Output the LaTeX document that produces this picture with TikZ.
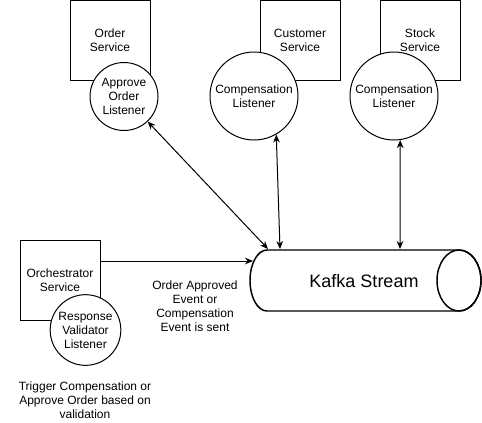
\documentclass[tikz,border=0pt]{standalone}
\usepackage{fontspec}
\setmainfont{Liberation Sans}
\usetikzlibrary{arrows.meta,calc}
\begin{document}
\begin{tikzpicture}[x=0.75pt,y=-0.75pt,
  txt/.style={font=\fontsize{9pt}{10.5pt}\selectfont,align=center,inner sep=0pt},
  svcbox/.style={draw,line width=0.75pt,minimum width=60pt,minimum height=60pt,inner sep=0pt,txt},
  listener/.style={draw,circle,fill=white,line width=0.75pt,inner sep=0pt,txt},
  link/.style={line width=0.75pt,{Stealth[length=6pt,width=5pt]}-{Stealth[length=6pt,width=5pt]}},
  onelink/.style={line width=0.75pt,-{Stealth[length=6pt,width=5pt]}}]
\useasboundingbox (0,0) rectangle (482,422);
% service boxes
\node[svcbox] (ordersvc) at (110,40) {Order\\Service};
\node[svcbox] (custsvc) at (300,40) {Customer\\Service};
\node[svcbox] (stocksvc) at (420,40) {Stock\\Service};
\node[svcbox] (orch) at (60,280) {Orchestrator\\Service};
% listeners
\node[listener,minimum size=51pt] (appr) at (124,96.5) {Approve\\Order\\Listener};
\node[listener,minimum size=66pt] (cust) at (254,96) {Compensation\\Listener};
\node[listener,minimum size=66pt] (stock) at (394,96) {Compensation\\Listener};
\node[listener,minimum size=53pt] (resp) at (85.5,330) {Response\\Validator\\Listener};
% kafka cylinder
\node[minimum width=173.25pt,minimum height=45.75pt,inner sep=0pt] (kafka) at (365.5,280.5) {};
\draw[line width=1.1pt] (267,250) -- (459,250)
  arc[start angle=90,end angle=-90,x radius=16.5pt,y radius=22.875pt]
  -- (267,311)
  arc[start angle=270,end angle=90,x radius=12.75pt,y radius=22.875pt] -- cycle;
\draw[line width=1.1pt] (459,280.5) ellipse[x radius=16.5pt,y radius=22.875pt];
\node[inner sep=0pt,font=\fontsize{13.5pt}{16pt}\selectfont] (kafkatxt) at (364,281) {Kafka Stream};
% connection points on the cylinder
\coordinate (k1) at (268,249);
\coordinate (k2) at (280,249);
\coordinate (k3) at (400,249);
\coordinate (k4) at (253,261);
\coordinate (o1) at (100,261);
% connectors
\draw[link] (appr) -- (k1);
\draw[link] (cust.-60) -- (k2);
\draw[link] (stock.-82) -- (k3);
\draw[onelink] (o1) -- (k4);
% labels
\node[txt] (sentlbl) at (195,306) {Order Approved\\Event or\\Compensation\\Event is sent};
\node[txt] (triglbl) at (85,400) {Trigger Compensation or\\Approve Order based on\\validation};
\end{tikzpicture}
\end{document}
